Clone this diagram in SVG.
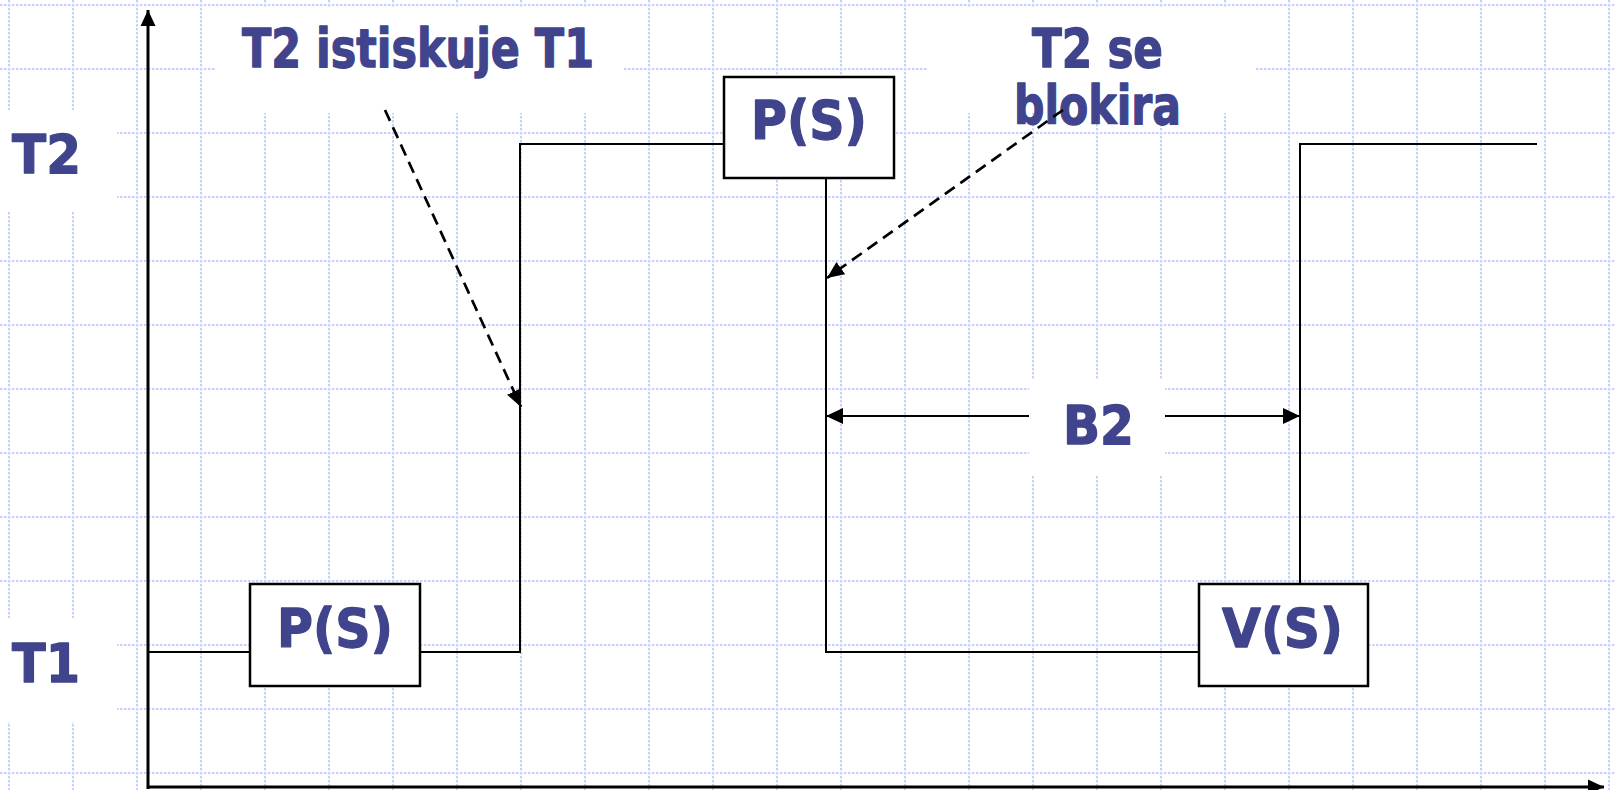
<svg xmlns="http://www.w3.org/2000/svg" width="1616" height="790" viewBox="0 0 1616 790">
<style>
.grid{stroke:#c6d2f7;stroke-width:2;stroke-dasharray:2.5 1.5;fill:none}
.lbl{font-family:"DejaVu Sans","Liberation Sans",sans-serif;font-weight:bold;font-size:53px;fill:#3f448c;stroke:#3f448c;stroke-width:1.3;stroke-linejoin:round}
.box{fill:#fff;stroke:#000;stroke-width:2.5}
.bg{fill:#fff}
.line{stroke:#000;stroke-width:2;fill:none}
.dash{stroke:#000;stroke-width:2.7;stroke-dasharray:12 7;fill:none}
.axis{stroke:#000;stroke-width:3;fill:none}
</style>
<defs>
<marker id="ax" markerUnits="userSpaceOnUse" markerWidth="17" markerHeight="16" refX="16" refY="8" orient="auto"><path d="M0,0.5 L16,8 L0,15.5 z" fill="#000"/></marker>
<marker id="ah" markerUnits="userSpaceOnUse" markerWidth="18" markerHeight="16" refX="17" refY="7.5" orient="auto"><path d="M0,0 L17,7.5 L0,15 z" fill="#000"/></marker>
<marker id="bh" markerUnits="userSpaceOnUse" markerWidth="18" markerHeight="17" refX="17" refY="8" orient="auto"><path d="M0,0 L17,8 L0,16 z" fill="#000"/></marker>
</defs>
<rect x="0" y="0" width="1616" height="790" fill="#fff"/>
<g id="grid">
<path class="grid" d="M0 5H1616M0 69H1616M0 133H1616M0 197H1616M0 261H1616M0 325H1616M0 389H1616M0 453H1616M0 517H1616M0 581H1616M0 645H1616M0 709H1616M0 773H1616"/>
<path class="grid" d="M9 0V790M73 0V790M137 0V790M201 0V790M265 0V790M329 0V790M393 0V790M457 0V790M521 0V790M585 0V790M649 0V790M713 0V790M777 0V790M841 0V790M905 0V790M969 0V790M1033 0V790M1097 0V790M1161 0V790M1225 0V790M1289 0V790M1353 0V790M1417 0V790M1481 0V790M1545 0V790M1609 0V790"/>
</g>
<g id="label-t2">
<rect class="bg" x="0" y="110" width="117" height="102"/>
<text class="lbl" x="12" y="173" textLength="69" lengthAdjust="spacingAndGlyphs">T2</text>
</g>
<g id="label-t1">
<rect class="bg" x="0" y="618" width="117" height="104"/>
<text class="lbl" x="12" y="682" textLength="68" lengthAdjust="spacingAndGlyphs">T1</text>
</g>
<g id="label-istiskuje">
<rect class="bg" x="216" y="8" width="407" height="105"/>
<text class="lbl" x="242" y="67" textLength="352" lengthAdjust="spacingAndGlyphs">T2 istiskuje T1</text>
</g>
<g id="label-blokira">
<rect class="bg" x="927" y="8" width="328" height="105"/>
<text class="lbl" x="1032" y="67" textLength="131" lengthAdjust="spacingAndGlyphs">T2 se</text>
<text class="lbl" x="1014" y="124" textLength="167" lengthAdjust="spacingAndGlyphs">blokira</text>
</g>
<g id="connectors">
<path class="axis" d="M148 789V10" marker-end="url(#ax)"/>
<path class="axis" d="M147 787H1604" marker-end="url(#ax)"/>
<path class="line" d="M148 652H250"/>
<path class="line" d="M420 652H520V144H724"/>
<path class="line" d="M826 178V652H1199"/>
<path class="line" d="M1300 584V144H1537"/>
<path class="dash" d="M385 110L521 407" marker-end="url(#ah)"/>
<path class="dash" d="M1063 110L827 278" marker-end="url(#ah)"/>
<path class="line" d="M1029 416H826" marker-end="url(#bh)"/>
<path class="line" d="M1165 416H1300" marker-end="url(#bh)"/>
</g>
<g id="label-b2">
<rect class="bg" x="1029" y="380" width="136" height="95"/>
<text class="lbl" x="1063" y="444" textLength="71" lengthAdjust="spacingAndGlyphs">B2</text>
</g>
<g id="node-ps-t1">
<rect class="box" x="250" y="584" width="170" height="102"/>
<text class="lbl" x="277" y="647" textLength="116" lengthAdjust="spacingAndGlyphs">P(S)</text>
</g>
<g id="node-ps-t2">
<rect class="box" x="724" y="77" width="170" height="101"/>
<text class="lbl" x="751" y="139" textLength="116" lengthAdjust="spacingAndGlyphs">P(S)</text>
</g>
<g id="node-vs">
<rect class="box" x="1199" y="584" width="169" height="102"/>
<text class="lbl" x="1222" y="647" textLength="121" lengthAdjust="spacingAndGlyphs">V(S)</text>
</g>
</svg>
